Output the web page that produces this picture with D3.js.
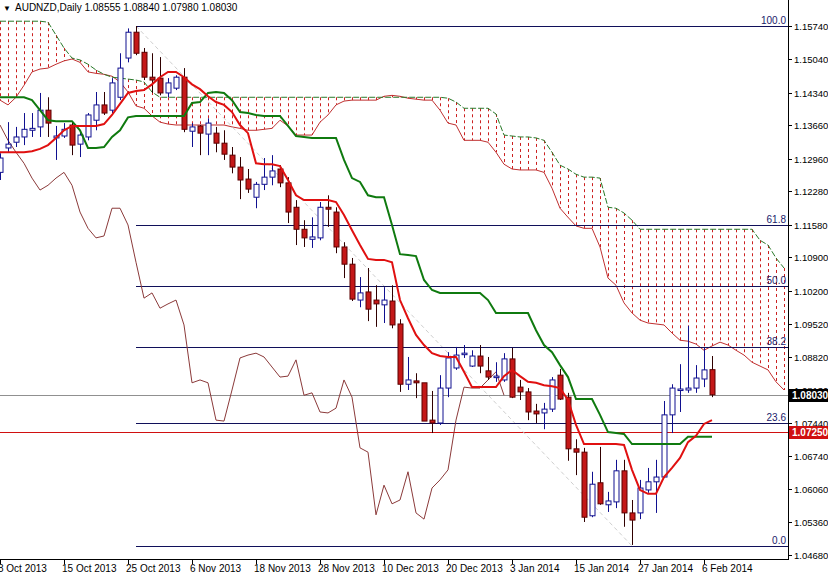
<!DOCTYPE html>
<html><head><meta charset="utf-8">
<script src="https://cdn.jsdelivr.net/npm/d3@7"></script>
<style>body{margin:0;background:#fff}svg{display:block}</style>
</head><body>
<svg id="c" width="828" height="575"></svg>
<script>
const opens=[1.1268,1.1319,1.1331,1.1342,1.1356,1.1363,1.1398,1.1340,1.1344,1.1367,1.1327,1.1342,1.1377,1.1409,1.1398,1.1425,1.1507,1.1561,1.1519,1.1467,1.1465,1.1434,1.1444,1.1467,1.1354,1.1365,1.1348,1.1350,1.1329,1.1304,1.1279,1.1254,1.1216,1.1243,1.1258,1.1275,1.1246,1.1195,1.1149,1.1128,1.1131,1.1195,1.1185,1.1112,1.1076,1.1001,1.1018,1.1001,1.0991,1.0999,1.0951,1.0825,1.0832,1.0828,1.0750,1.0744,1.0817,1.0859,1.0888,1.0863,1.0884,1.0853,1.0842,1.0834,1.0878,1.0819,1.0809,1.0769,1.0765,1.0773,1.0844,1.0798,1.0690,1.0683,1.0550,1.0619,1.0573,1.0579,1.0644,1.0556,1.0556,1.0604,1.0621,1.0631,1.0761,1.0813,1.0813,1.0817,1.0836,1.08555];
const highs=[1.1308,1.1373,1.1363,1.1392,1.1392,1.1434,1.1425,1.1365,1.1371,1.1373,1.1356,1.1392,1.1436,1.1436,1.1465,1.1517,1.1569,1.1574,1.1528,1.1517,1.1509,1.1465,1.1471,1.1486,1.1371,1.1367,1.1381,1.1363,1.1356,1.1321,1.1300,1.1275,1.1248,1.1298,1.1304,1.1283,1.1258,1.1210,1.1168,1.1174,1.1206,1.1220,1.1195,1.1122,1.1089,1.1049,1.1068,1.1032,1.1028,1.1032,1.0961,1.0882,1.0848,1.0834,1.0811,1.0844,1.0892,1.0903,1.0907,1.0896,1.0907,1.0882,1.0871,1.0890,1.0901,1.0834,1.0817,1.0784,1.0786,1.0840,1.0857,1.0807,1.0710,1.0692,1.0642,1.0694,1.0600,1.0667,1.0667,1.0583,1.0625,1.0650,1.0667,1.0790,1.0825,1.0867,1.0947,1.0865,1.0901,1.08840];
const lows=[1.1252,1.1310,1.1321,1.1325,1.1342,1.1342,1.1342,1.1294,1.1340,1.1304,1.1300,1.1335,1.1356,1.1388,1.1392,1.1419,1.1498,1.1513,1.1461,1.1434,1.1429,1.1425,1.1440,1.1352,1.1321,1.1304,1.1304,1.1310,1.1294,1.1266,1.1212,1.1225,1.1193,1.1231,1.1241,1.1237,1.1162,1.1116,1.1112,1.1110,1.1126,1.1154,1.1099,1.1047,1.0999,1.0986,1.0957,1.0945,1.0953,1.0942,1.0809,1.0813,1.0796,1.0834,1.0723,1.0740,1.0798,1.0855,1.0880,1.0861,1.0848,1.0834,1.0830,1.0830,1.0796,1.0792,1.0750,1.0744,1.0731,1.0767,1.0792,1.0665,1.0635,1.0537,1.0547,1.0573,1.0558,1.0566,1.0527,1.0489,1.0543,1.0598,1.0556,1.0629,1.0723,1.0767,1.0807,1.0807,1.0819,1.07980];
const closes=[1.1298,1.1327,1.1342,1.1358,1.1360,1.1398,1.1371,1.1344,1.1358,1.1325,1.1346,1.1388,1.1409,1.1392,1.1455,1.1486,1.1561,1.1517,1.1467,1.1461,1.1434,1.1455,1.1467,1.1358,1.1363,1.1350,1.1371,1.1329,1.1306,1.1279,1.1252,1.1233,1.1243,1.1258,1.1271,1.1246,1.1185,1.1149,1.1131,1.1133,1.1195,1.1191,1.1112,1.1076,1.1003,1.1016,1.0982,1.0993,1.1001,1.0949,1.0825,1.0834,1.0828,1.0748,1.0744,1.0817,1.0880,1.0886,1.0890,1.0884,1.0863,1.0840,1.0842,1.0878,1.0798,1.0809,1.0767,1.0763,1.0773,1.0834,1.0794,1.0690,1.0683,1.0547,1.0616,1.0575,1.0581,1.0644,1.0556,1.0541,1.0608,1.0621,1.0631,1.0761,1.0817,1.0815,1.0817,1.0838,1.0855,1.08030];
const tenkan=[1.1310,1.1310,1.1310,1.1310,1.1312,1.1317,1.1325,1.1340,1.1356,1.1365,1.1365,1.1365,1.1365,1.1369,1.1388,1.1411,1.1434,1.1438,1.1440,1.1452,1.1467,1.1478,1.1478,1.1467,1.1452,1.1442,1.1427,1.1415,1.1409,1.1394,1.1367,1.1350,1.1287,1.1285,1.1285,1.1281,1.1252,1.1220,1.1210,1.1210,1.1210,1.1210,1.1206,1.1179,1.1147,1.1116,1.1087,1.1085,1.1085,1.1080,1.1001,1.0963,1.0928,1.0907,1.0890,1.0884,1.0882,1.0882,1.0851,1.0819,1.0819,1.0819,1.0819,1.0842,1.0855,1.0842,1.0830,1.0828,1.0823,1.0821,1.0817,1.0792,1.0740,1.0700,1.0700,1.0700,1.0700,1.0700,1.0698,1.0646,1.0604,1.0596,1.0596,1.0631,1.0650,1.0671,1.0704,1.0717,1.0742,1.0750];
const kijun=[1.1425,1.1425,1.1425,1.1425,1.1419,1.1398,1.1377,1.1375,1.1375,1.1375,1.1356,1.1319,1.1319,1.1321,1.1342,1.1356,1.1383,1.1386,1.1386,1.1386,1.1386,1.1386,1.1386,1.1386,1.1413,1.1415,1.1434,1.1436,1.1434,1.1419,1.1394,1.1392,1.1388,1.1386,1.1386,1.1386,1.1365,1.1344,1.1342,1.1340,1.1340,1.1340,1.1340,1.1294,1.1256,1.1248,1.1220,1.1216,1.1216,1.1158,1.1097,1.1095,1.1093,1.1043,1.1022,1.1016,1.1016,1.1016,1.1016,1.1016,1.1016,1.1001,1.0974,1.0974,1.0974,1.0974,1.0974,1.0938,1.0907,1.0892,1.0865,1.0840,1.0794,1.0794,1.0794,1.0761,1.0725,1.0723,1.0721,1.0700,1.0700,1.0700,1.0700,1.0700,1.0700,1.0700,1.0715,1.0715,1.0715,1.0715];
const chikou=[1.1367,1.1335,1.1310,1.1287,1.1256,1.1231,1.1241,1.1256,1.1268,1.1241,1.1185,1.1151,1.1131,1.1135,1.1193,1.1193,1.1158,1.1080,1.1005,1.1016,1.0984,1.0993,1.1001,1.0949,1.0828,1.0834,1.0828,1.0750,1.0748,1.0813,1.0880,1.0886,1.0890,1.0882,1.0861,1.0840,1.0842,1.0876,1.0802,1.0807,1.0767,1.0765,1.0775,1.0834,1.0798,1.0692,1.0683,1.0552,1.0614,1.0575,1.0583,1.0642,1.0556,1.0543,1.0608,1.0625,1.0646,1.0750,1.0819,1.0817,1.0817,1.0834,1.0851,1.0802];
const spanUpper=[1.1584,1.1584,1.1584,1.1584,1.1584,1.1584,1.1582,1.1555,1.1528,1.1507,1.1503,1.1494,1.1482,1.1473,1.1467,1.1465,1.1463,1.1461,1.1457,1.1436,1.1425,1.1425,1.1425,1.1425,1.1425,1.1425,1.1425,1.1425,1.1425,1.1425,1.1425,1.1425,1.1425,1.1425,1.1425,1.1425,1.1425,1.1425,1.1425,1.1425,1.1425,1.1425,1.1425,1.1425,1.1425,1.1425,1.1425,1.1425,1.1425,1.1425,1.1425,1.1425,1.1425,1.1425,1.1425,1.1425,1.1423,1.1415,1.1402,1.1402,1.1402,1.1402,1.1390,1.1346,1.1344,1.1342,1.1342,1.1340,1.1335,1.1310,1.1283,1.1275,1.1264,1.1258,1.1258,1.1256,1.1195,1.1193,1.1183,1.1168,1.1149,1.1149,1.1149,1.1149,1.1149,1.1149,1.1149,1.1149,1.1149,1.1149,1.1149,1.1149,1.1149,1.1149,1.1149,1.1126,1.1116,1.1089,1.1068];
const spanLower=[1.1419,1.1409,1.1425,1.1450,1.1478,1.1484,1.1486,1.1494,1.1501,1.1505,1.1498,1.1478,1.1475,1.1473,1.1469,1.1457,1.1436,1.1407,1.1402,1.1386,1.1373,1.1369,1.1367,1.1367,1.1367,1.1367,1.1367,1.1367,1.1367,1.1363,1.1360,1.1356,1.1356,1.1358,1.1360,1.1377,1.1365,1.1346,1.1346,1.1346,1.1373,1.1388,1.1409,1.1417,1.1419,1.1419,1.1419,1.1419,1.1427,1.1429,1.1427,1.1423,1.1421,1.1419,1.1419,1.1398,1.1371,1.1367,1.1335,1.1335,1.1335,1.1331,1.1310,1.1285,1.1275,1.1273,1.1273,1.1273,1.1268,1.1235,1.1193,1.1174,1.1156,1.1151,1.1151,1.1112,1.1047,1.1032,1.0995,1.0974,1.0959,1.0953,1.0951,1.0949,1.0932,1.0917,1.0915,1.0909,1.0896,1.0905,1.0913,1.0907,1.0896,1.0886,1.0871,1.0863,1.0855,1.0830,1.0813];
const yTicks=[1.15740,1.15040,1.14340,1.13660,1.12960,1.12280,1.11580,1.10900,1.10200,1.09520,1.08820,1.08130,1.07440,1.06740,1.06060,1.05360,1.04680];
const dateLabels=["8 Oct 2013","15 Oct 2013","25 Oct 2013","6 Nov 2013","18 Nov 2013","28 Nov 2013","10 Dec 2013","20 Dec 2013","3 Jan 2014","15 Jan 2014","27 Jan 2014","6 Feb 2014"];
const dateIdx=[0,8,16,24,32,40,48,56,64,72,80,88];
const fibLevels=[0,23.6,38.2,50,61.8,100];
const fibHigh=1.1574, fibLow=1.0487, fibHighIdx=17, fibLowIdx=79;
const bidPrice=1.08030, linePrice=1.07250;

const svg=d3.select("#c");
const F="Liberation Sans, Arial, sans-serif";
const AX=788;
const x=d3.scaleLinear().domain([0,89]).range([0,712]);
const y=d3.scaleLinear().domain([1.0468,1.1574]).range([555,26]);
const defs=svg.append("defs");
defs.append("clipPath").attr("id","pc").append("rect").attr("x",0).attr("y",0).attr("width",AX).attr("height",559);
const g=svg.append("g").attr("clip-path","url(#pc)");

// cloud hatch
spanUpper.forEach((u,i)=>{
  const l=spanLower[i];
  g.append("line").attr("x1",x(i)+0.5).attr("x2",x(i)+0.5).attr("y1",y(Math.max(u,l))).attr("y2",y(Math.min(u,l)))
   .attr("stroke","#cc2020").attr("stroke-width",1).attr("stroke-dasharray","3,3");
});
const ln=d3.line().x((d,i)=>x(i)).y(d=>y(d));
g.append("path").datum(spanLower).attr("d",ln).attr("fill","none").attr("stroke","#c03030").attr("stroke-width",1);
g.append("path").datum(spanUpper).attr("d",ln).attr("fill","none").attr("stroke","#2a7a2a").attr("stroke-width",1).attr("stroke-dasharray","6,2");

// horizontal lines
g.append("line").attr("x1",0).attr("x2",AX).attr("y1",Math.round(y(bidPrice))+0.5).attr("y2",Math.round(y(bidPrice))+0.5).attr("stroke","#909090");
g.append("line").attr("x1",0).attr("x2",AX).attr("y1",Math.round(y(linePrice))+0.5).attr("y2",Math.round(y(linePrice))+0.5).attr("stroke","#d01010");
// diagonal
g.append("line").attr("x1",x(fibHighIdx)).attr("y1",y(fibHigh)).attr("x2",x(fibLowIdx)).attr("y2",y(fibLow)).attr("stroke","#cfcfcf").attr("stroke-dasharray","4,3");
// fib
fibLevels.forEach(f=>{
  const p=fibLow+(fibHigh-fibLow)*f/100, yy=Math.round(y(p))+0.5;
  g.append("line").attr("x1",x(fibHighIdx)).attr("x2",AX).attr("y1",yy).attr("y2",yy).attr("stroke","#10105a");
  svg.append("text").attr("x",AX-2).attr("y",yy-3).attr("text-anchor","end").attr("font-family",F).attr("font-size",10).attr("fill","#20206a").text(f.toFixed(1));
});

// chikou
g.append("path").datum(chikou).attr("d",ln).attr("fill","none").attr("stroke","#8b3a3a").attr("stroke-width",1);
// candles
opens.forEach((o,i)=>{
  const c=closes[i], bull=c>=o, cx=Math.round(x(i))+0.5;
  g.append("line").attr("x1",cx).attr("x2",cx).attr("y1",y(highs[i])).attr("y2",y(lows[i])).attr("stroke",bull?"#101090":"#300000");
  const top=y(Math.max(o,c)), bot=y(Math.min(o,c));
  g.append("rect").attr("x",cx-2.5).attr("y",top).attr("width",5).attr("height",Math.max(1.5,bot-top))
   .attr("fill",bull?"#ffffff":"#c41818").attr("stroke",bull?"#101090":"#5a0000").attr("stroke-width",1);
});
// tenkan & kijun
g.append("path").datum(kijun).attr("d",ln).attr("fill","none").attr("stroke","#0f7a0f").attr("stroke-width",2);
g.append("path").datum(tenkan).attr("d",ln).attr("fill","none").attr("stroke","#e01010").attr("stroke-width",2);

// axes
svg.append("line").attr("x1",AX+0.5).attr("x2",AX+0.5).attr("y1",0).attr("y2",560).attr("stroke","#000");
svg.append("line").attr("x1",0).attr("x2",AX).attr("y1",559.5).attr("y2",559.5).attr("stroke","#000");
yTicks.forEach(t=>{
  const yy=Math.round(y(t))+0.5;
  svg.append("line").attr("x1",AX).attr("x2",AX+4).attr("y1",yy).attr("y2",yy).attr("stroke","#000");
  svg.append("text").attr("x",AX+6).attr("y",yy+3.5).attr("font-family",F).attr("font-size",9.5).attr("fill","#000").text(t.toFixed(5));
});
dateIdx.forEach((d,k)=>{
  const xx=Math.round(x(d))+0.5;
  svg.append("line").attr("x1",xx).attr("x2",xx).attr("y1",559).attr("y2",564).attr("stroke","#000");
  svg.append("text").attr("x",x(d)-2).attr("y",572).attr("font-family",F).attr("font-size",10).attr("fill","#000").text(dateLabels[k]);
});
[[bidPrice,"#000"],[linePrice,"#d01010"]].forEach(([p,col])=>{
  const yy=Math.round(y(p));
  svg.append("rect").attr("x",AX+1).attr("y",yy-6).attr("width",828-AX).attr("height",13).attr("fill",col);
  svg.append("text").attr("x",AX+4).attr("y",yy+4).attr("font-family",F).attr("font-size",10).attr("font-weight","bold").attr("fill","#fff").text(p.toFixed(5));
});
svg.append("text").attr("x",3).attr("y",11).attr("font-family",F).attr("font-size",8).attr("fill","#000").text("▼");
svg.append("text").attr("x",15).attr("y",11).attr("font-family",F).attr("font-size",10).attr("fill","#000").text("AUDNZD,Daily  1.08555 1.08840 1.07980 1.08030");
</script>
</body></html>
